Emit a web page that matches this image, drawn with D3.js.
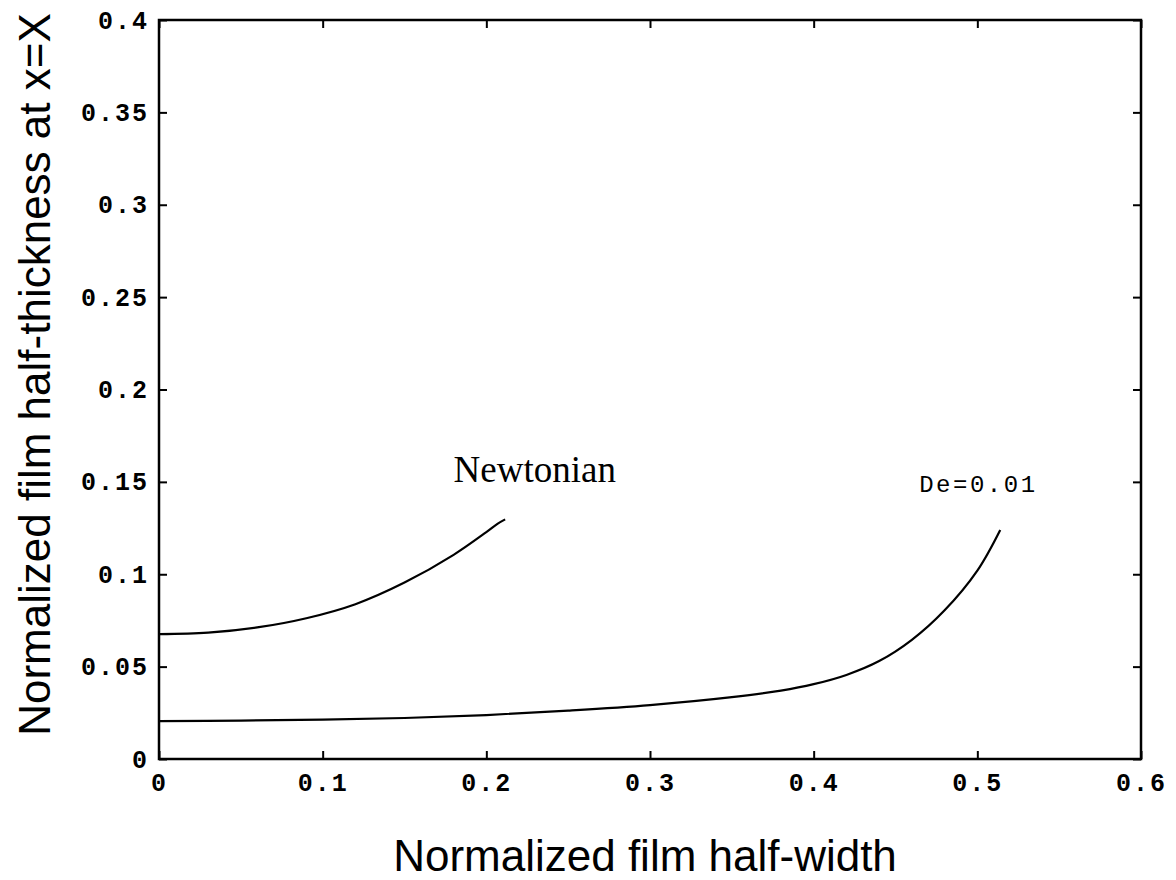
<!DOCTYPE html>
<html>
<head>
<meta charset="utf-8">
<script src="https://cdn.jsdelivr.net/npm/d3@7"></script>
<style>
  html, body { margin: 0; padding: 0; background: #fff; }
  svg { display: block; }
</style>
</head>
<body>
<svg id="chart" width="1176" height="880"></svg>
<script>
// ---- data ----
const xTicks = [0, 0.1, 0.2, 0.3, 0.4, 0.5, 0.6];
const yTicks = [0, 0.05, 0.1, 0.15, 0.2, 0.25, 0.3, 0.35, 0.4];
const xTickLabels = ["0", "0.1", "0.2", "0.3", "0.4", "0.5", "0.6"];
const yTickLabels = ["0", "0.05", "0.1", "0.15", "0.2", "0.25", "0.3", "0.35", "0.4"];

const newtonianX = [0, 0.03, 0.06, 0.09, 0.12, 0.15, 0.18, 0.2, 0.207, 0.2115];
const newtonianY = [0.0676, 0.0684, 0.0712, 0.0762, 0.0838, 0.0955, 0.1105, 0.1228, 0.1274, 0.1297];

const deX = [0, 0.05, 0.1, 0.15, 0.2, 0.25, 0.3, 0.35, 0.38, 0.4, 0.42, 0.44, 0.46, 0.48, 0.5, 0.514];
const deY = [0.0205, 0.0208, 0.0213, 0.0222, 0.0238, 0.0262, 0.0292, 0.0335, 0.0370, 0.0405, 0.0455, 0.0530, 0.0645, 0.0805, 0.1020, 0.1240];

const labels = [
  { text: "Newtonian", x: 0.18, y: 0.1497, kind: "serif" },
  { text: "De=0.01", x: 0.4645, y: 0.1447, kind: "mono" }
];

const xTitle = "Normalized film half-width";
const yTitle = "Normalized film half-thickness at x=X";

// ---- layout ----
const svg = d3.select("#chart");
const L = 159, R = 1141, T = 20, B = 759;
const x = d3.scaleLinear().domain([0, 0.6]).range([L, R]);
const y = d3.scaleLinear().domain([0, 0.4]).range([B, T]);

const mono = "'Liberation Mono', 'DejaVu Sans Mono', monospace";
const sans = "'Liberation Sans', Arial, sans-serif";
const serif = "'Liberation Serif', 'Times New Roman', serif";

// frame
svg.append("rect")
  .attr("x", L).attr("y", T).attr("width", R - L).attr("height", B - T)
  .attr("fill", "none").attr("stroke", "#000").attr("stroke-width", 2.5);

// axes (ticks inward, labels outside)
const tickLen = 8;
const xAxisB = d3.axisBottom(x).tickValues(xTicks).tickSizeInner(-tickLen).tickSizeOuter(0)
  .tickPadding(14).tickFormat((d, i) => xTickLabels[i]);
const xAxisT = d3.axisTop(x).tickValues(xTicks).tickSizeInner(-tickLen).tickSizeOuter(0).tickFormat("");
const yAxisL = d3.axisLeft(y).tickValues(yTicks).tickSizeInner(-tickLen).tickSizeOuter(0)
  .tickPadding(10).tickFormat((d, i) => yTickLabels[i]);
const yAxisR = d3.axisRight(y).tickValues(yTicks).tickSizeInner(-tickLen).tickSizeOuter(0).tickFormat("");

function styleAxis(g) {
  g.select(".domain").remove();
  g.selectAll(".tick line").attr("stroke", "#000").attr("stroke-width", 2);
  g.selectAll(".tick text")
    .attr("fill", "#000")
    .style("font-family", mono)
    .style("font-size", "25px")
    .style("font-weight", "bold")
    .style("letter-spacing", "2px");
}

svg.append("g").attr("transform", `translate(0,${B})`).call(xAxisB).call(styleAxis)
  .selectAll(".tick text").attr("dy", "0.71em");
svg.append("g").attr("transform", `translate(0,${T})`).call(xAxisT).call(styleAxis);
svg.append("g").attr("transform", `translate(${L},0)`).call(yAxisL).call(styleAxis);
svg.append("g").attr("transform", `translate(${R},0)`).call(yAxisR).call(styleAxis);

// curves
const line = d3.line().x(d => x(d[0])).y(d => y(d[1])).curve(d3.curveCatmullRom.alpha(0.5));
const newtonian = newtonianX.map((v, i) => [v, newtonianY[i]]);
const de = deX.map((v, i) => [v, deY[i]]);

[newtonian, de].forEach(s => {
  svg.append("path").datum(s).attr("d", line)
    .attr("fill", "none").attr("stroke", "#000").attr("stroke-width", 2.2);
});

// annotations
labels.forEach(l => {
  const t = svg.append("text")
    .attr("x", x(l.x)).attr("y", y(l.y))
    .attr("fill", "#000")
    .text(l.text);
  if (l.kind === "serif") {
    t.style("font-family", serif).style("font-size", "37px");
  } else {
    t.style("font-family", mono).style("font-size", "24px").style("letter-spacing", "2.5px");
  }
});

// axis titles
svg.append("text")
  .attr("x", (L + R) / 2 - 5).attr("y", 871)
  .attr("text-anchor", "middle")
  .style("font-family", sans).style("font-size", "44px")
  .attr("fill", "#000")
  .text(xTitle);

svg.append("text")
  .attr("transform", `translate(50,${(T + B) / 2 - 15}) rotate(-90)`)
  .attr("text-anchor", "middle")
  .style("font-family", sans).style("font-size", "44px")
  .attr("fill", "#000")
  .text(yTitle);
</script>
</body>
</html>
